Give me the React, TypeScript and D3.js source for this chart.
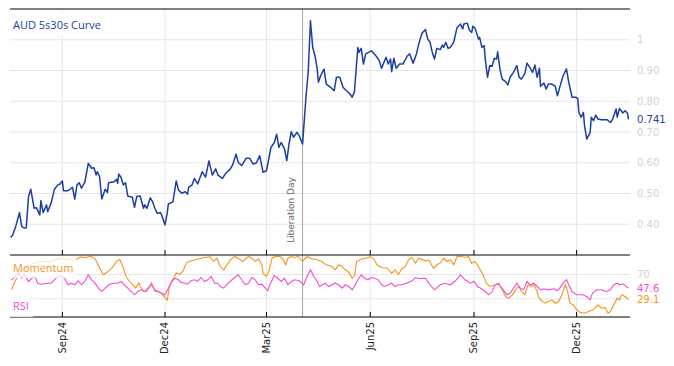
import React, { useEffect, useRef } from "react";
import * as d3 from "d3";

// day offsets from the first observation (17 Jul 2024)
const startDate = new Date(2024, 6, 17);

const curveDays = [
  0, 2, 5, 8, 10, 12, 14, 16, 18, 21, 23, 26, 27, 29, 32, 33, 36, 39, 42, 44, 46, 47, 51, 55, 57, 59, 61, 63, 66, 69,
  72, 74, 76, 77, 79, 81, 84, 86, 87, 92, 94, 95, 96, 98, 100, 102, 104, 108, 110, 112, 115, 118, 119, 121, 124, 126,
  128, 130, 133, 134, 137, 139, 140, 144, 147, 149, 152, 155, 157, 158, 161, 163, 166, 170, 173, 176, 179, 182, 184,
  188, 191, 195, 197, 200, 202, 205, 209, 212, 215, 218, 221, 224, 227, 231, 234, 236, 238, 240, 243, 245, 247, 249,
  251, 254, 256, 259, 262, 264, 266, 268, 270, 272, 273, 275, 278, 280, 284, 287, 289, 292, 295, 298, 301, 303, 305,
  308, 309, 311, 313, 315, 320, 324, 327, 329, 333, 335, 337, 338, 340, 342, 345, 348, 352, 354, 357, 360, 362, 365,
  368, 370, 372, 374, 376, 378, 381, 383, 384, 386, 388, 390, 393, 396, 399, 401, 402, 405, 407, 409, 410, 412, 415,
  416, 418, 420, 421, 423, 425, 427, 429, 431, 432, 434, 436, 439, 441, 443, 446, 449, 451, 453, 456, 458, 461, 463,
  465, 467, 469, 470, 473, 475, 477, 480, 483, 485, 487, 490, 493, 495, 498, 501, 503, 504, 506, 508, 509, 511, 514,
  515, 517, 519, 521, 524, 529, 532, 534, 537, 538, 540, 543, 545, 547, 548,
];
const curveValues = [
  0.357, 0.365, 0.397, 0.438, 0.392, 0.388, 0.389, 0.49, 0.514, 0.452, 0.454, 0.43, 0.477, 0.438, 0.463, 0.441, 0.468,
  0.514, 0.528, 0.531, 0.541, 0.509, 0.509, 0.52, 0.482, 0.528, 0.535, 0.517, 0.538, 0.598, 0.582, 0.584, 0.56, 0.571,
  0.555, 0.482, 0.514, 0.503, 0.535, 0.538, 0.546, 0.533, 0.563, 0.553, 0.528, 0.535, 0.492, 0.488, 0.455, 0.49, 0.492,
  0.452, 0.463, 0.452, 0.486, 0.473, 0.452, 0.436, 0.438, 0.43, 0.398, 0.436, 0.466, 0.473, 0.541, 0.511, 0.501, 0.506,
  0.498, 0.52, 0.528, 0.549, 0.531, 0.571, 0.553, 0.606, 0.56, 0.58, 0.56, 0.549, 0.566, 0.58, 0.593, 0.628, 0.601,
  0.591, 0.615, 0.615, 0.596, 0.599, 0.623, 0.569, 0.574, 0.65, 0.666, 0.693, 0.65, 0.666, 0.645, 0.607, 0.661, 0.701,
  0.683, 0.699, 0.688, 0.661, 0.813, 0.894, 1.062, 0.975, 0.948, 0.905, 0.862, 0.883, 0.905, 0.856, 0.845, 0.834,
  0.878, 0.878, 0.845, 0.834, 0.824, 0.813, 0.831, 0.975, 0.959, 0.972, 0.921, 0.954, 0.964, 0.948, 0.932, 0.907,
  0.943, 0.921, 0.937, 0.896, 0.94, 0.907, 0.921, 0.921, 0.948, 0.954, 0.924, 0.954, 0.986, 1.022, 1.033, 1.002,
  0.992, 0.959, 0.937, 0.972, 0.968, 0.983, 0.975, 0.992, 0.972, 0.975, 0.992, 1.04, 1.051, 1.035, 1.051, 1.054, 1.03,
  1.024, 1.044, 1.037, 1.002, 1.008, 0.975, 0.981, 0.937, 0.878, 0.916, 0.914, 0.94, 0.937, 0.961, 0.905, 0.872,
  0.864, 0.853, 0.878, 0.894, 0.916, 0.878, 0.872, 0.889, 0.924, 0.907, 0.894, 0.918, 0.878, 0.907, 0.849, 0.859,
  0.84, 0.856, 0.856, 0.849, 0.818, 0.845, 0.883, 0.905, 0.862, 0.813, 0.813, 0.809, 0.764, 0.748, 0.764, 0.721,
  0.677, 0.699, 0.748, 0.737, 0.755, 0.742, 0.74, 0.74, 0.731, 0.742, 0.775, 0.748, 0.777, 0.762, 0.769, 0.762, 0.741,
];

const momDays = [
  1, 4, 9, 17, 26, 35, 44, 53, 57, 62, 66, 71, 75, 79, 82, 85, 90, 94, 97, 100, 103, 108, 111, 114, 115, 118, 121, 125,
  128, 133, 136, 139, 141, 144, 147, 150, 153, 156, 159, 165, 171, 177, 180, 183, 186, 189, 192, 195, 199, 204, 206,
  211, 214, 217, 220, 223, 224, 227, 229, 232, 235, 239, 242, 244, 246, 249, 252, 255, 259, 263, 267, 272, 276, 280,
  285, 288, 291, 294, 297, 300, 303, 305, 307, 310, 313, 316, 319, 322, 325, 329, 334, 338, 341, 344, 347, 350, 353,
  356, 359, 362, 368, 371, 375, 378, 381, 384, 387, 390, 393, 396, 399, 403, 406, 409, 412, 415, 419, 422, 425, 430,
  433, 436, 439, 442, 445, 449, 451, 453, 456, 459, 462, 464, 467, 468, 470, 474, 477, 480, 483, 486, 489, 492, 494,
  496, 499, 502, 505, 509, 514, 517, 521, 524, 527, 530, 532, 535, 538, 540, 542, 545, 548,
];
const momValues = [
  45.3, 59.0, 75.0, 86.5, 91.5, 91.5, 96.4, 94.8, 93.1, 99.2, 97.6, 100, 95.9, 81.1, 70.0, 72.8, 81.1, 92.0, 94.8, 81.1,
  64.6, 53.6, 48.1, 56.4, 50.8, 42.5, 42.5, 56.4, 42.5, 40.9, 34.3, 27.7, 50.8, 61.8, 72.8, 70.0, 75.5, 89.3, 92.0,
  94.8, 97.6, 99.2, 91.5, 96.9, 83.2, 77.8, 86.0, 94.3, 99.7, 94.3, 91.5, 99.7, 96.9, 91.5, 95.9, 86.0, 72.2, 66.7,
  75.0, 96.9, 100, 99.7, 94.3, 86.0, 96.9, 99.7, 98.1, 100, 91.5, 99.7, 95.9, 94.3, 91.5, 86.0, 83.2, 77.8, 86.0, 83.2,
  77.8, 73.8, 63.9, 68.4, 91.5, 94.3, 96.9, 96.9, 99.7, 95.9, 86.0, 81.6, 80.4, 72.2, 77.8, 70.5, 79.4, 83.2, 94.3,
  98.1, 88.7, 96.9, 92.6, 94.3, 80.4, 86.0, 88.7, 96.9, 91.5, 94.3, 86.0, 99.7, 100, 98.1, 99.7, 88.7, 91.5, 83.2,
  69.5, 55.7, 50.3, 53.1, 55.7, 44.8, 33.8, 31.0, 36.6, 47.5, 50.3, 42.0, 36.6, 53.1, 50.3, 54.1, 42.0, 33.8, 28.3,
  22.7, 25.5, 28.3, 22.7, 25.5, 36.6, 53.1, 42.0, 22.7, 20.1, 11.9, 7.9, 6.3, 10.2, 11.9, 20.1, 14.5, 15.7, 6.3, 9.1,
  20.1, 31.0, 28.3, 36.6, 33.8, 29.1,
];

const rsiDays = [
  1, 4, 7, 10, 12, 16, 19, 22, 24, 27, 32, 36, 39, 42, 45, 48, 51, 54, 57, 60, 63, 66, 69, 72, 75, 78, 81, 84, 87, 91,
  95, 98, 101, 104, 107, 110, 113, 116, 119, 122, 125, 128, 131, 134, 137, 140, 143, 146, 149, 151, 155, 157, 160, 163,
  166, 169, 172, 175, 178, 181, 184, 186, 189, 193, 198, 202, 205, 208, 211, 214, 217, 220, 223, 226, 228, 230, 234,
  237, 240, 243, 246, 249, 252, 256, 260, 263, 266, 269, 272, 274, 279, 282, 285, 288, 291, 294, 297, 300, 303, 305,
  308, 311, 314, 317, 320, 323, 326, 329, 332, 335, 338, 341, 344, 347, 351, 356, 359, 362, 368, 372, 376, 381, 385,
  390, 394, 399, 403, 408, 411, 414, 417, 421, 424, 427, 430, 433, 437, 440, 443, 446, 449, 452, 455, 458, 461, 464,
  467, 470, 473, 477, 482, 485, 487, 490, 493, 495, 498, 502, 507, 511, 514, 516, 520, 524, 528, 532, 535, 538, 540,
  543, 548,
];
const rsiValues = [
  61.3, 66.7, 72.2, 63.9, 70.5, 58.5, 63.9, 66.7, 55.7, 54.1, 55.7, 55.7, 61.3, 66.7, 68.4, 63.9, 53.1, 55.7, 53.1,
  59.7, 53.1, 58.5, 69.5, 61.3, 55.7, 47.5, 42.0, 47.5, 53.1, 55.7, 55.7, 58.5, 53.1, 47.5, 42.0, 36.6, 42.0, 44.8,
  42.0, 47.5, 53.1, 44.8, 42.0, 39.2, 36.6, 47.5, 58.5, 63.9, 61.3, 57.3, 55.7, 54.1, 59.7, 61.3, 58.5, 65.1, 58.5,
  61.3, 66.7, 55.7, 55.7, 50.3, 47.5, 55.7, 63.9, 69.5, 61.3, 53.1, 55.7, 65.1, 61.3, 53.1, 54.1, 47.5, 43.2, 53.1,
  68.4, 63.9, 58.5, 63.9, 53.1, 58.5, 61.3, 59.7, 53.1, 66.7, 77.8, 66.7, 58.5, 50.3, 55.7, 50.3, 53.1, 55.7, 53.1,
  47.5, 53.1, 50.3, 44.8, 50.3, 61.3, 69.5, 63.9, 61.3, 65.1, 63.9, 61.3, 53.1, 50.3, 53.1, 55.7, 50.3, 53.1, 53.1,
  55.7, 59.7, 65.1, 63.4, 63.9, 53.1, 44.8, 53.1, 55.7, 53.1, 58.5, 69.5, 61.3, 55.7, 58.5, 50.3, 47.5, 42.0, 36.6,
  42.0, 53.1, 54.1, 44.8, 36.6, 39.2, 47.5, 55.7, 47.5, 44.8, 58.5, 53.1, 55.7, 50.3, 44.8, 46.5, 44.8, 46.5, 43.2,
  47.5, 55.7, 61.3, 53.1, 42.0, 36.6, 36.6, 33.8, 28.3, 39.2, 44.8, 44.8, 42.0, 44.8, 53.1, 55.7, 53.1, 54.7, 47.6,
];

const tickDates = ["2024-09-01", "2024-12-01", "2025-03-01", "2025-06-01", "2025-09-01", "2025-12-01"];
const curveTicks = [0.4, 0.5, 0.6, 0.7, 0.8, 0.9, 1];
const oscGrid = [70, 30];
const oscLabelTicks = [70];
const eventDate = "2025-04-02";
const eventLabel = "Liberation Day";

const BLUE = "#1a3ea3";
const ORANGE = "#f7931e";
const PINK = "#f54bd2";
const GRID = "#e6e6e6";

const App = () => {
  const ref = useRef<SVGSVGElement>(null);
  const width = 674,
    height = 366;

  useEffect(() => {
    document.body.style.margin = "0";
    const svg = d3.select(ref.current);
    svg.selectAll("*").remove();

    const parse = d3.timeParse("%Y-%m-%d");
    const left = 10,
      right = 630,
      top = 9,
      mid = 255,
      bottom = 317;

    const x = d3
      .scaleTime()
      .domain([d3.timeHour.offset(startDate, -10), d3.timeHour.offset(startDate, 549 * 24 + 8)])
      .range([left, right]);
    const y = d3.scaleLinear().domain([0.3, 1.1]).range([mid, top]);
    const yo = d3.scaleLinear().domain([0, 102.2]).range([bottom, mid]);

    const toDate = (d: number) => d3.timeDay.offset(startDate, d);
    const curve = curveDays.map((d, i) => ({ date: toDate(d), v: curveValues[i] }));
    const mom = momDays.map((d, i) => ({ date: toDate(d), v: momValues[i] }));
    const rsi = rsiDays.map((d, i) => ({ date: toDate(d), v: rsiValues[i] }));
    const ticks = tickDates.map((t) => parse(t) as Date);

    const defs = svg.append("defs");
    defs.append("clipPath").attr("id", "clipTop").append("rect")
      .attr("x", left).attr("y", top).attr("width", right - left).attr("height", mid - top);
    defs.append("clipPath").attr("id", "clipBot").append("rect")
      .attr("x", left).attr("y", mid).attr("width", right - left).attr("height", bottom - mid);

    // grid
    const grid = svg.append("g");
    grid.selectAll("line.v").data(ticks).enter().append("line")
      .attr("x1", (d) => x(d)).attr("x2", (d) => x(d))
      .attr("y1", top).attr("y2", bottom)
      .attr("stroke", GRID);
    grid.selectAll("line.h").data(curveTicks).enter().append("line")
      .attr("x1", left).attr("x2", right)
      .attr("y1", (d) => y(d)).attr("y2", (d) => y(d))
      .attr("stroke", GRID);
    grid.selectAll("line.o").data(oscGrid).enter().append("line")
      .attr("x1", left).attr("x2", right)
      .attr("y1", (d) => yo(d)).attr("y2", (d) => yo(d))
      .attr("stroke", GRID);

    // event marker
    const ex = x(parse(eventDate) as Date);
    svg.append("line")
      .attr("x1", ex).attr("x2", ex).attr("y1", top).attr("y2", bottom)
      .attr("stroke", "#a6a6a6");
    svg.append("text")
      .attr("transform", `translate(${ex - 9}, 243) rotate(-90)`)
      .attr("font-family", "DejaVu Sans")
      .attr("font-size", 9)
      .attr("fill", "#666")
      .text(eventLabel);

    const line = d3.line<{ date: Date; v: number }>()
      .x((d) => x(d.date))
      .y((d) => y(d.v));
    const lineO = d3.line<{ date: Date; v: number }>()
      .x((d) => x(d.date))
      .y((d) => yo(d.v));

    svg.append("path").datum(curve)
      .attr("clip-path", "url(#clipTop)")
      .attr("fill", "none").attr("stroke", BLUE).attr("stroke-width", 1.5)
      .attr("stroke-linejoin", "round")
      .attr("d", line);
    svg.append("path").datum(mom)
      .attr("clip-path", "url(#clipBot)")
      .attr("fill", "none").attr("stroke", ORANGE).attr("stroke-width", 1.1)
      .attr("d", lineO);
    svg.append("path").datum(rsi)
      .attr("clip-path", "url(#clipBot)")
      .attr("fill", "none").attr("stroke", PINK).attr("stroke-width", 1.1)
      .attr("d", lineO);

    // frame lines and ticks
    [top, mid, bottom].forEach((yy) => {
      svg.append("line").attr("x1", left).attr("x2", right).attr("y1", yy).attr("y2", yy)
        .attr("stroke", "#000").attr("stroke-width", 1.2);
    });
    [mid, bottom].forEach((yy) => {
      svg.append("g").selectAll("line").data(ticks).enter().append("line")
        .attr("x1", (d) => x(d)).attr("x2", (d) => x(d))
        .attr("y1", yy - 5).attr("y2", yy)
        .attr("stroke", "#000");
    });

    // x tick labels
    svg.append("g").selectAll("text").data(ticks).enter().append("text")
      .attr("transform", (d) => `translate(${x(d)}, 322) rotate(-90)`)
      .attr("text-anchor", "end")
      .attr("dy", "0.35em")
      .attr("font-family", "DejaVu Sans")
      .attr("font-size", 10)
      .attr("fill", "#222")
      .text((d) => d3.timeFormat("%b%y")(d));

    // right tick labels
    const fmt = (d: number) => (d === 1 ? "1" : d3.format(".2f")(d));
    svg.append("g").selectAll("text").data(curveTicks).enter().append("text")
      .attr("x", 637).attr("y", (d) => y(d)).attr("dy", "0.35em")
      .attr("font-family", "DejaVu Sans").attr("font-size", 10)
      .attr("fill", "#d2d2d2")
      .text(fmt);
    svg.append("g").selectAll("text").data(oscLabelTicks).enter().append("text")
      .attr("x", 637).attr("y", (d) => yo(d)).attr("dy", "0.35em")
      .attr("font-family", "DejaVu Sans").attr("font-size", 10)
      .attr("fill", "#d2d2d2")
      .text((d) => String(d));

    const boxed = (tx: number, ty: number, str: string, color: string, family: string, size: number, opacity: number, pad = 2) => {
      const g = svg.append("g");
      const rect = g.append("rect");
      const t = g.append("text")
        .attr("x", tx).attr("y", ty).attr("dy", "0.35em")
        .attr("font-family", family).attr("font-size", size)
        .attr("fill", color).text(str);
      const b = (t.node() as SVGTextElement).getBBox();
      rect.attr("x", b.x - pad).attr("y", b.y - pad)
        .attr("width", b.width + pad * 2).attr("height", b.height + pad * 2)
        .attr("fill", "#fff").attr("fill-opacity", opacity);
    };

    const lastCurve = curveValues[curveValues.length - 1];
    const lastMom = momValues[momValues.length - 1];
    const lastRsi = rsiValues[rsiValues.length - 1];
    boxed(637, y(lastCurve), d3.format(".3f")(lastCurve), BLUE, "DejaVu Sans", 10, 1);
    boxed(637, yo(lastRsi), d3.format(".1f")(lastRsi), PINK, "DejaVu Sans", 10, 1, 1);
    boxed(637, yo(lastMom), d3.format(".1f")(lastMom), ORANGE, "DejaVu Sans", 10, 1, 1);

    boxed(13, 25, "AUD 5s30s Curve", BLUE, "Open Sans", 11, 0.9, 4);
    boxed(13, 268, "Momentum", ORANGE, "Open Sans", 11, 0.75, 3);
    boxed(13, 306, "RSI", PINK, "Open Sans", 11, 0.9, 4);
  }, []);

  return <svg ref={ref} width={width} height={height} style={{ display: "block" }} />;
};

export default App;
